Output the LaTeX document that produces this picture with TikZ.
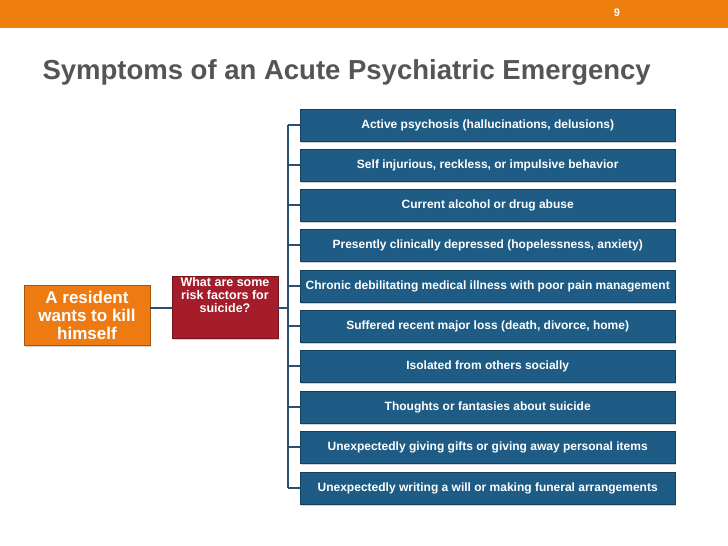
\documentclass[tikz,border=0pt]{standalone}
\usepackage{fontspec}
\setmainfont{Liberation Sans}
\definecolor{topor}{HTML}{EE7F0E}
\definecolor{bluebox}{HTML}{1E5C85}
\definecolor{redbox}{HTML}{A51C2A}
\definecolor{orbox}{HTML}{EE7A12}
\definecolor{titlegray}{HTML}{555555}
\definecolor{linec}{HTML}{2B4F6E}
\usetikzlibrary{shadows}
\tikzset{
 bbox/.style={fill=bluebox,draw=bluebox!70!black,minimum width=375pt,minimum height=32pt,anchor=west,text=white,font=\bfseries\fontsize{12}{14}\selectfont,drop shadow={opacity=0.35,shadow xshift=1pt,shadow yshift=-1.5pt}},
 conn/.style={draw=linec,line width=1.2pt},
}
\begin{document}
\begin{tikzpicture}[x=1pt,y=-1pt]
\useasboundingbox (0,0) rectangle (728,546);
\fill[white] (0,0) rectangle (728,546);
\fill[topor] (0,0) rectangle (728,28);
\node[text=white,font=\bfseries\fontsize{11}{13}\selectfont] (pg) at (617,13) {9};
\node[anchor=west,text=titlegray,font=\bfseries\fontsize{27.5}{30}\selectfont] (title) at (39,72) {Symptoms of an Acute Psychiatric Emergency};
\node[fill=orbox,draw=orbox!70!black,minimum width=126pt,minimum height=60pt,align=center,inner sep=1pt,text=white,font=\bfseries\fontsize{17}{18}\selectfont,drop shadow={opacity=0.35,shadow xshift=1pt,shadow yshift=-1.5pt}] (res) at (87,315) {A resident\\wants to kill\\himself};
\node[fill=redbox,draw=redbox!70!black,minimum width=106pt,minimum height=51pt,align=center,inner sep=1pt,text=white,font=\bfseries\fontsize{12.5}{13}\selectfont,drop shadow={opacity=0.35,shadow xshift=1pt,shadow yshift=-1.5pt}] (q) at (225,307) {What are some\\risk factors for\\suicide?\\[12pt]};
\coordinate (top) at (288,125);
\coordinate (bot) at (288,488);
\coordinate (mid) at (288,308);
\foreach \i/\y/\t in {1/125/{Active psychosis (hallucinations, delusions)},
 2/165/{Self injurious, reckless, or impulsive behavior},
 3/205/{Current alcohol or drug abuse},
 4/245/{Presently clinically depressed (hopelessness, anxiety)},
 5/286/{Chronic debilitating medical illness with poor pain management},
 6/326/{Suffered recent major loss (death, divorce, home)},
 7/366/{Isolated from others socially},
 8/407/{Thoughts or fantasies about suicide},
 9/447/{Unexpectedly giving gifts or giving away personal items},
 10/488/{Unexpectedly writing a will or making funeral arrangements}}{
 \node[bbox] (b\i) at (300,\y) {\t};
 \draw[conn] (288,\y) -- (b\i.west);
}
\draw[conn] (top) -- (bot);
\draw[conn] (res.east |- mid) -- (q.west |- mid);
\draw[conn] (q.east |- mid) -- (mid);
\end{tikzpicture}
\end{document}
